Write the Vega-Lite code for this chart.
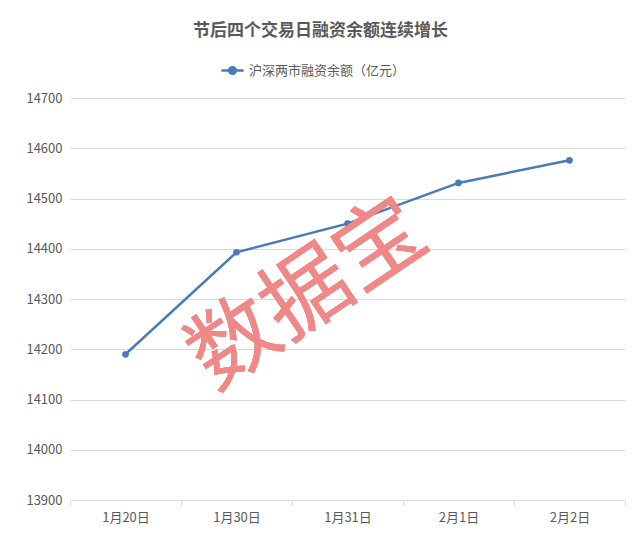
{
  "$schema": "https://vega.github.io/schema/vega-lite/v6.json",
  "width": 555,
  "height": 402,
  "autosize": "none",
  "padding": {"left": 70, "top": 98, "right": 15, "bottom": 44},
  "background": "white",
  "config": {
    "font": "Noto Sans CJK SC",
    "view": {"stroke": null}
  },
  "title": {
    "text": "节后四个交易日融资余额连续增长",
    "fontSize": 17,
    "fontWeight": "bold",
    "color": "#595959",
    "anchor": "middle",
    "dx": -27,
    "offset": 18
  },
  "data": {
    "values": [
      {"date": "1月20日", "value": 14190, "series": "沪深两市融资余额（亿元）"},
      {"date": "1月30日", "value": 14393, "series": "沪深两市融资余额（亿元）"},
      {"date": "1月31日", "value": 14450, "series": "沪深两市融资余额（亿元）"},
      {"date": "2月1日", "value": 14531, "series": "沪深两市融资余额（亿元）"},
      {"date": "2月2日", "value": 14576, "series": "沪深两市融资余额（亿元）"}
    ]
  },
  "layer": [
    {
      "mark": {"type": "line", "strokeWidth": 2.5, "point": {"size": 45, "filled": true}},
      "encoding": {
        "x": {
          "field": "date",
          "type": "ordinal",
          "sort": null,
          "scale": {"paddingInner": 0, "paddingOuter": 0},
          "axis": {
            "title": null,
            "labelAngle": 0,
            "labelFontSize": 13,
            "labelColor": "#595959",
            "labelPadding": 6,
            "domainColor": "#d9d9d9",
            "tickColor": "#d9d9d9",
            "tickBand": "extent",
            "tickSize": 5,
            "grid": false
          }
        },
        "y": {
          "field": "value",
          "type": "quantitative",
          "scale": {"domain": [13900, 14700], "nice": false, "zero": false},
          "axis": {
            "title": null,
            "values": [13900, 14000, 14100, 14200, 14300, 14400, 14500, 14600, 14700],
            "format": "d",
            "labelFontSize": 13,
            "labelColor": "#595959",
            "labelPadding": 8,
            "domain": false,
            "ticks": false,
            "gridColor": "#d9d9d9"
          }
        },
        "color": {
          "field": "series",
          "type": "nominal",
          "scale": {"range": ["#4a7ab8"]},
          "legend": {
            "title": null,
            "orient": "none",
            "legendX": 150,
            "legendY": -40,
            "labelFontSize": 13,
            "labelColor": "#595959",
            "symbolType": "M-1,0L1,0M0.3,0A0.3,0.3 0 1,1 -0.3,0A0.3,0.3 0 1,1 0.3,0",
            "symbolSize": 500,
            "symbolStrokeWidth": 2.5
          }
        }
      }
    },
    {
      "mark": {
        "type": "text",
        "text": "数据宝",
        "fontSize": 88,
        "angle": -34,
        "color": "#f08888",
        "opacity": 0.7,
        "dx": -47
      },
      "encoding": {
        "x": {"datum": "1月31日"},
        "y": {"datum": 14358}
      }
    }
  ]
}
